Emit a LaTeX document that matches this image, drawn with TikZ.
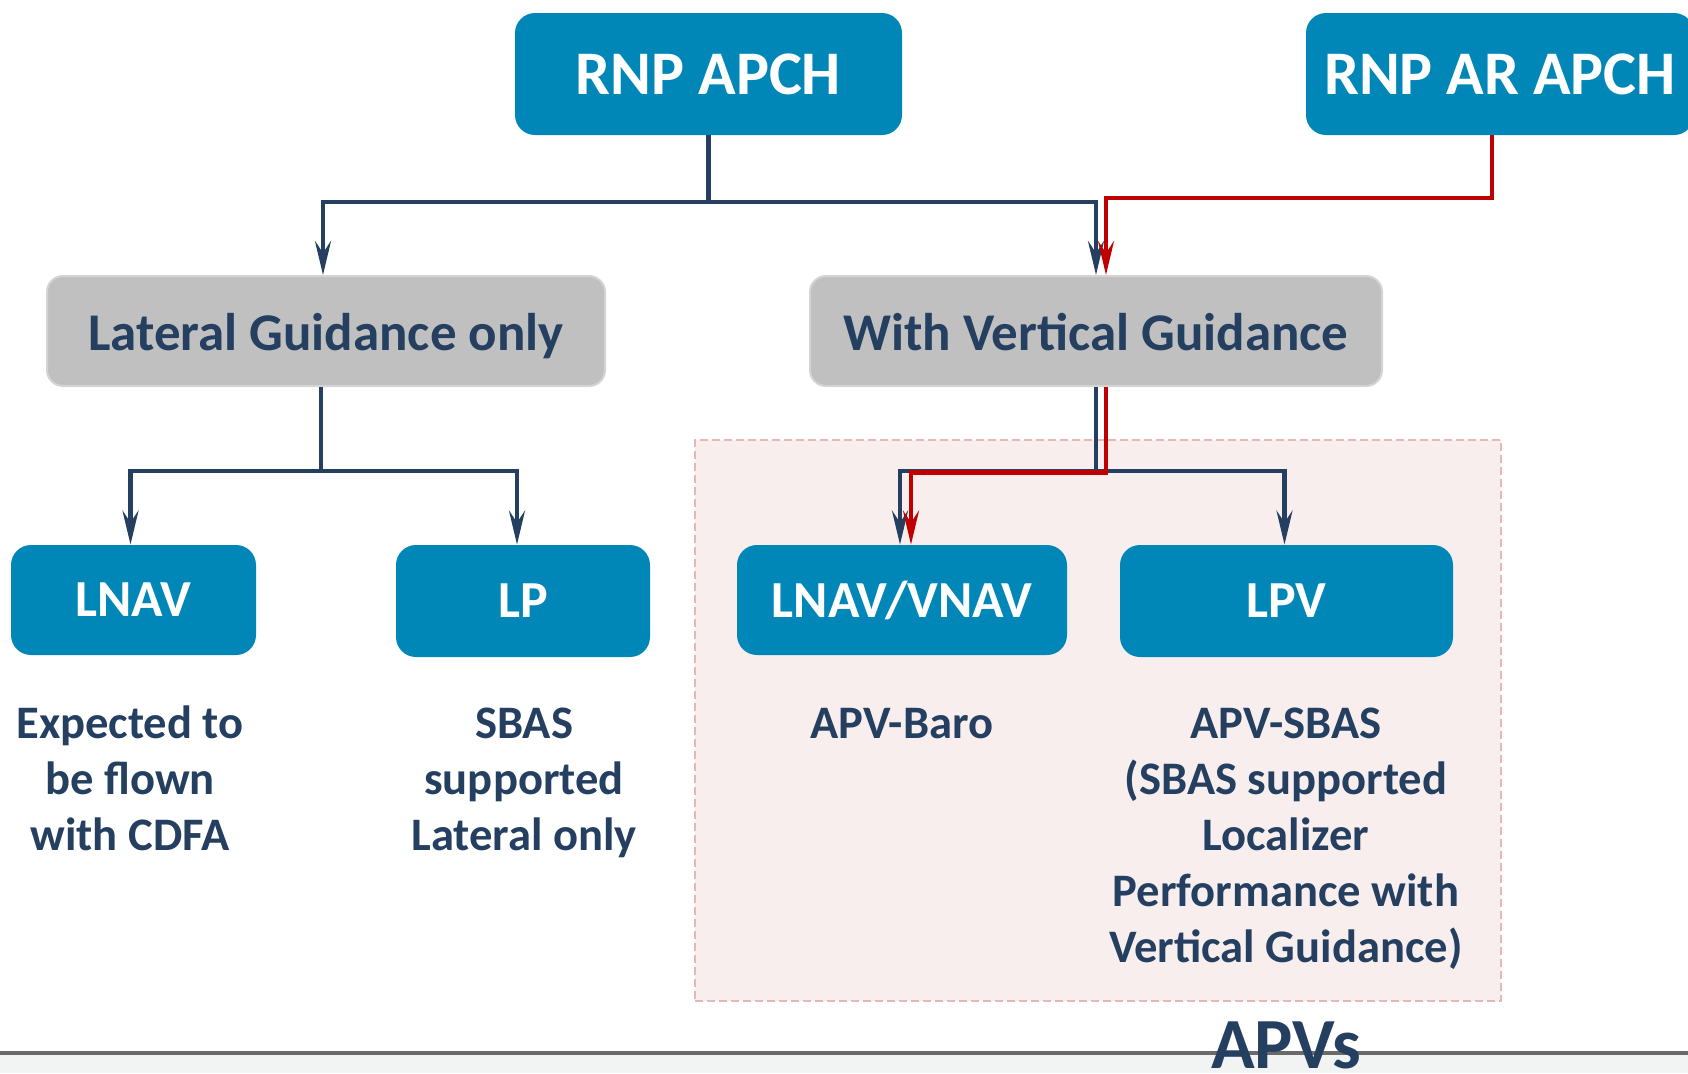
\documentclass[tikz,border=0pt]{standalone}
\usepackage{fontspec}
\setmainfont{Carlito}
\usetikzlibrary{arrows.meta,calc}
\definecolor{boxblue}{HTML}{0087B8}
\definecolor{navy}{HTML}{243F60}
\definecolor{arred}{HTML}{C00000}
\definecolor{boxgray}{HTML}{C0C0C0}
\definecolor{grayedge}{HTML}{D4D4D4}
\definecolor{pinkfill}{HTML}{F8EEEE}
\definecolor{pinkline}{HTML}{E8B8B8}
\definecolor{footgray}{HTML}{F2F3F3}
\definecolor{rulegray}{HTML}{6A6A6A}
\begin{document}
\begin{tikzpicture}[x=0.5pt,y=-0.5pt,
  bluebox/.style={fill=boxblue,rounded corners=10pt,text=white,inner sep=0pt,font=\bfseries\fontsize{26}{30}\selectfont},
  topbox/.style={bluebox,font=\bfseries\fontsize{31}{36}\selectfont},
  graybox/.style={fill=boxgray,draw=grayedge,line width=1pt,rounded corners=8pt,text=navy,inner sep=0pt,text height=19pt,text depth=0pt,font=\bfseries\fontsize{26.5}{30}\selectfont},
  desc/.style={text=navy,align=center,anchor=north,inner sep=0pt,font=\bfseries\fontsize{23.3}{28}\selectfont},
  nv/.style={draw=navy,line width=2.3pt},
  rd/.style={draw=arred,line width=2.3pt},
  tip/.style={-{Stealth[length=17pt,width=8pt,inset=6pt]}},
  groupbox/.style={draw=pinkline,fill=pinkfill,line width=1pt,dash pattern=on 4pt off 2pt,inner sep=0pt}
]
\useasboundingbox (0,0) rectangle (1688,1073);
\fill[footgray] (0,1053) rectangle (1688,1073);
\draw[rulegray,line width=2pt] (0,1053) -- (1688,1053);
\node[groupbox,minimum width=403pt,minimum height=280.5pt] (grp) at (1098,720.5) {};

\node[topbox,minimum width=193.5pt,minimum height=61pt] (apch) at (708.5,74) {RNP APCH};
\begin{scope}
\clip (0,0) rectangle (1688,1073);
\node[topbox,minimum width=194pt,minimum height=61pt] (ar) at (1500,74) {RNP AR APCH};
\end{scope}

\node[graybox,minimum width=279pt,minimum height=55pt] (lat) at (326,331) {Lateral Guidance only};
\node[graybox,minimum width=286pt,minimum height=55pt] (wvg) at (1096,331) {With Vertical Guidance};

\node[bluebox,minimum width=122.5pt,minimum height=55pt] (lnav) at (133.5,600) {LNAV};
\node[bluebox,minimum width=127pt,minimum height=56pt] (lp) at (523,601) {LP};
\node[bluebox,minimum width=165pt,minimum height=55pt] (lv) at (902,600) {LNAV/VNAV};
\node[bluebox,minimum width=166.5pt,minimum height=56pt] (lpv) at (1286.5,601) {LPV};

% top level connectors
\coordinate (h1) at (0,202);
\draw[nv] (apch.south) -- (apch.south |- h1) coordinate (j1);
\draw[nv,tip] (j1) -| ($(lat.north)+(-3,0)$);
\draw[nv,tip] (j1) -| (wvg.north);
\draw[rd,tip] ($(ar.south)+(-8,0)$) |- ($(wvg.north)+(10,-77)$) -- ($(wvg.north)+(10,0)$);

% lateral branch
\draw[nv] ($(lat.south)+(-5,0)$) -- ++(0,84) coordinate (j2);
\draw[nv,tip] (j2) -| ($(lnav.north)+(-3,0)$);
\draw[nv,tip] (j2) -| ($(lp.north)+(-6,0)$);

% vertical branch
\draw[nv] (wvg.south) -- ++(0,84) coordinate (j3);
\draw[nv,tip] (j3) -| ($(lv.north)+(-2,0)$);
\draw[nv,tip] (j3) -| ($(lpv.north)+(-2,0)$);
\draw[rd,tip] ($(wvg.south)+(10,0)$) |- ($(lv.north)+(9,-72)$) -- ($(lv.north)+(9,0)$);

% descriptions
\node[desc] (t1) at (130,698) {\rule{0pt}{20pt}Expected to\\be flown\\with CDFA};
\node[desc] (t2) at (524,698) {\rule{0pt}{20pt}SBAS\\supported\\Lateral only};
\node[desc] (t3) at (902,698) {\rule{0pt}{20pt}APV-Baro};
\node[desc] (t4) at (1286,698) {\rule{0pt}{20pt}APV-SBAS\\(SBAS supported\\Localizer\\Performance with\\Vertical Guidance)};
\node[text=navy,anchor=base,inner sep=0pt,font=\bfseries\fontsize{36}{40}\selectfont] (apvs) at (1286,1068) {APVs};
\end{tikzpicture}
\end{document}
